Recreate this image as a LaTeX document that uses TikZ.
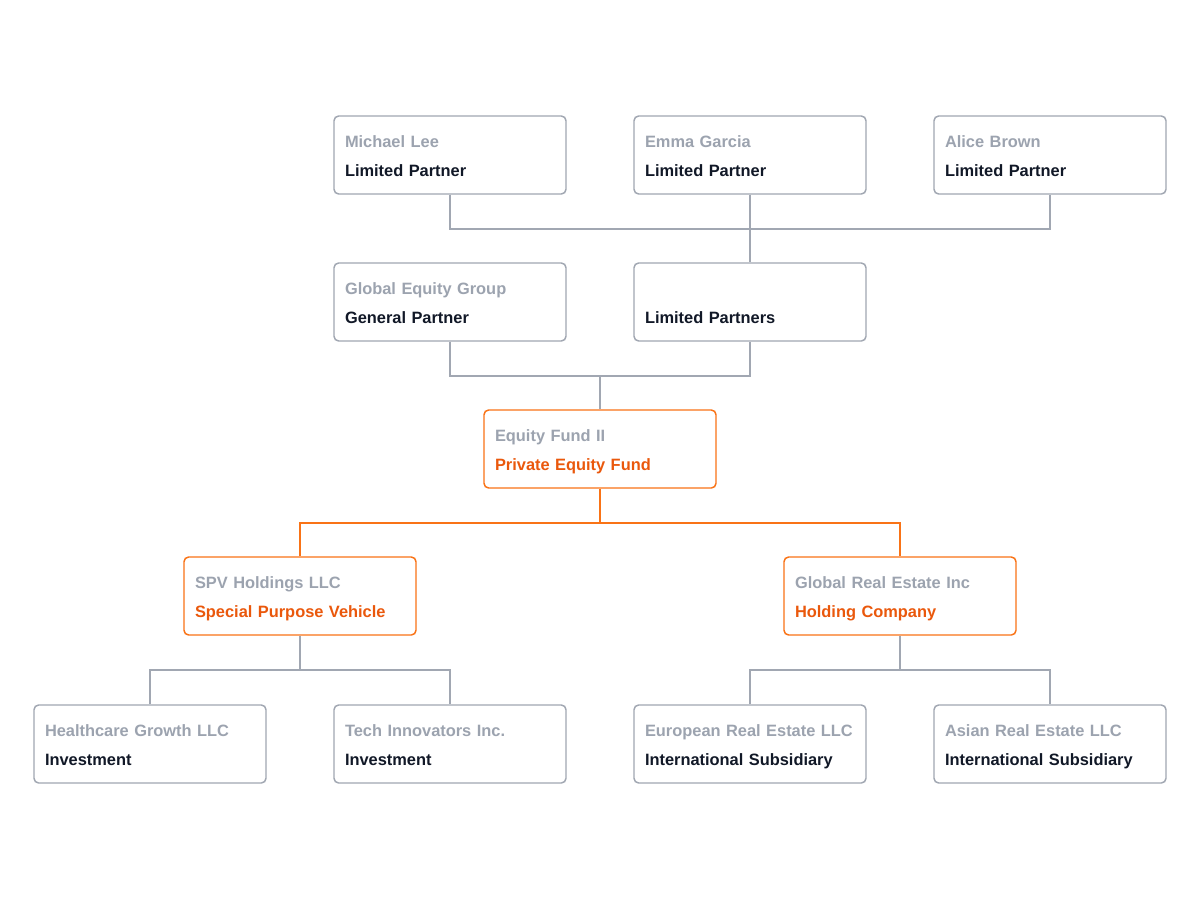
\documentclass[tikz,border=0pt]{standalone}
\usepackage{fontspec}
\setmainfont{Liberation Sans}
\definecolor{linegray}{HTML}{A1A7B2}
\definecolor{namegray}{HTML}{9CA3AF}
\definecolor{rolegray}{HTML}{111827}
\definecolor{fundline}{HTML}{F97316}
\definecolor{fundtext}{HTML}{EA580C}
\tikzset{
  orgbox/.style={draw=linegray, line width=1.1pt, rounded corners=3.5pt, fill=white,
    minimum width=174pt, minimum height=58.5pt, inner xsep=8.25pt, inner ysep=0pt,
    text width=157.5pt, align=left, text=rolegray,
    font=\bfseries\fontsize{12.3}{21.75}\selectfont},
  fundbox/.style={orgbox, draw=fundline, text=fundtext},
  link/.style={draw=linegray, line width=1.1pt},
  fundlink/.style={draw=fundline, line width=1.1pt}
}
\newcommand{\nm}[1]{\rule{0pt}{17.5pt}\textcolor{namegray}{#1}}
\newcommand{\rl}[1]{#1\strut}
\begin{document}
\begin{tikzpicture}[x=0.75pt,y=-0.75pt]
\useasboundingbox[fill=white] (0,0) rectangle (1200,900);
% partners
\node[orgbox] (ml) at (450,155) {\nm{Michael Lee}\\\rl{Limited Partner}};
\node[orgbox] (eg) at (750,155) {\nm{Emma Garcia}\\\rl{Limited Partner}};
\node[orgbox] (ab) at (1050,155) {\nm{Alice Brown}\\\rl{Limited Partner}};
\node[orgbox] (gp) at (450,302) {\nm{Global Equity Group}\\\rl{General Partner}};
\node[orgbox] (lp) at (750,302) {\nm{}\\\rl{Limited Partners}};
% fund and vehicles
\node[fundbox] (fund) at (600,449) {\nm{Equity Fund II}\\\rl{Private Equity Fund}};
\node[fundbox] (spv) at (300,596) {\nm{SPV Holdings LLC}\\\rl{Special Purpose Vehicle}};
\node[fundbox] (gre) at (900,596) {\nm{Global Real Estate Inc}\\\rl{Holding Company}};
% investments
\node[orgbox] (hc) at (150,744) {\nm{Healthcare Growth LLC}\\\rl{Investment}};
\node[orgbox] (ti) at (450,744) {\nm{Tech Innovators Inc.}\\\rl{Investment}};
\node[orgbox] (eu) at (750,744) {\nm{European Real Estate LLC}\\\rl{International Subsidiary}};
\node[orgbox] (as) at (1050,744) {\nm{Asian Real Estate LLC}\\\rl{International Subsidiary}};
% connectors
\draw[link] (ml.south) -- (ml.south |- 0,229) -| (ab.south);
\draw[link] (eg.south) -- (lp.north);
\draw[link] (gp.south) -- (gp.south |- 0,376) -| (lp.south);
\draw[link] (fund.north) -- (fund.north |- 0,376);
\draw[fundlink] (spv.north) -- (spv.north |- 0,523) -| (gre.north);
\draw[fundlink] (fund.south) -- (fund.south |- 0,523);
\draw[link] (hc.north) -- (hc.north |- 0,670) -| (ti.north);
\draw[link] (spv.south) -- (spv.south |- 0,670);
\draw[link] (eu.north) -- (eu.north |- 0,670) -| (as.north);
\draw[link] (gre.south) -- (gre.south |- 0,670);
\end{tikzpicture}
\end{document}
